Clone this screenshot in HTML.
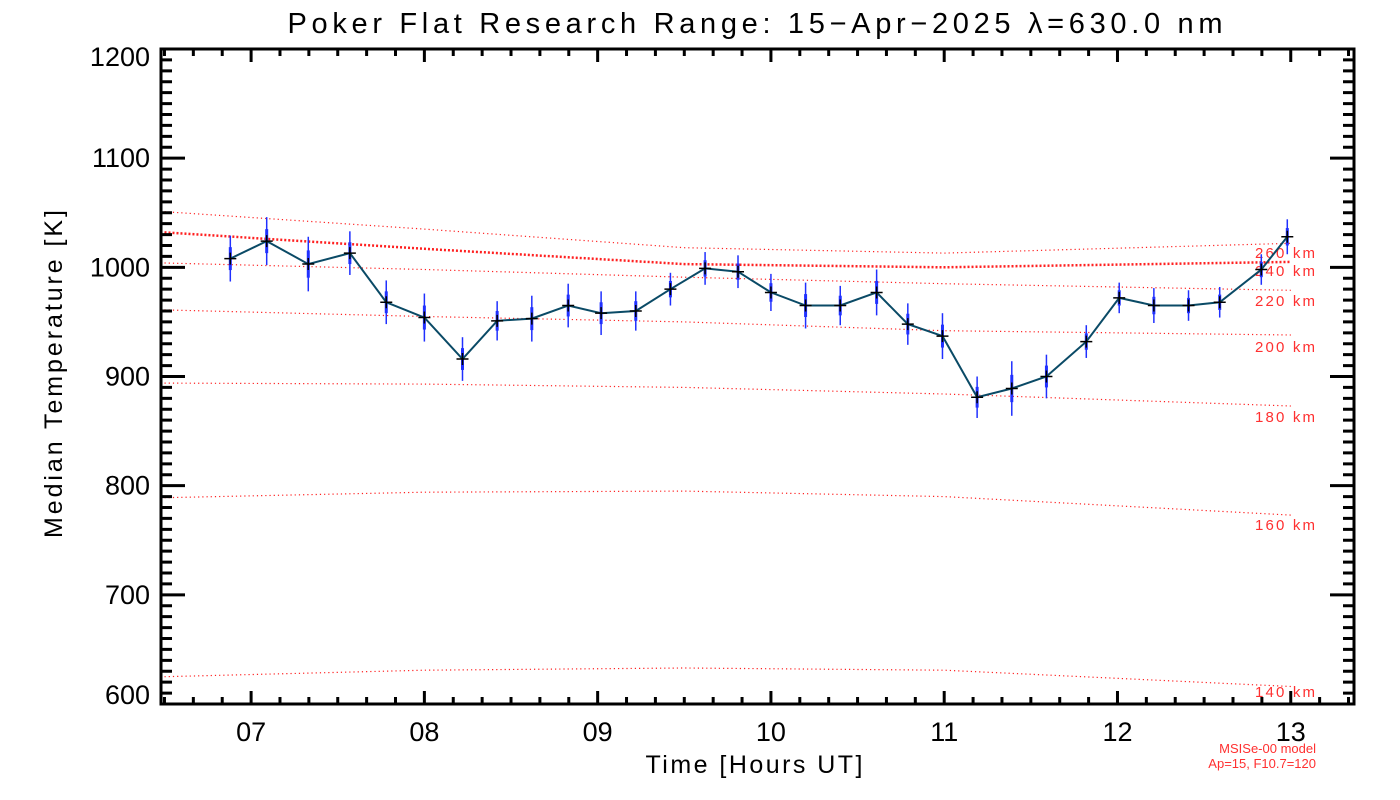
<!DOCTYPE html>
<html><head><meta charset="utf-8"><style>
html,body{margin:0;padding:0;background:#fff;}
svg{display:block;font-family:"Liberation Sans","DejaVu Sans",sans-serif;}
</style></head><body>
<svg id="chart" width="1400" height="800" viewBox="0 0 1400 800">
<text x="755" y="33" font-size="29" text-anchor="middle" textLength="935" lengthAdjust="spacing">Poker Flat Research Range: 15−Apr−2025 λ=630.0 nm</text>
<text x="754" y="773" font-size="25" text-anchor="middle" textLength="217" lengthAdjust="spacing">Time [Hours UT]</text>
<text transform="translate(62,374) rotate(-90)" font-size="25" text-anchor="middle" textLength="328" lengthAdjust="spacing">Median Temperature [K]</text>
<text x="1316" y="753" font-size="13" fill="#ff3030" text-anchor="end">MSISe-00 model</text>
<text x="1316" y="768" font-size="13" fill="#ff3030" text-anchor="end">Ap=15, F10.7=120</text>
<g id="models"></g><g id="series"></g><g id="axes"></g>
</svg>
<script>
const times=[6.88,7.09,7.33,7.57,7.78,8.0,8.22,8.42,8.62,8.83,9.02,9.22,9.42,9.62,9.81,10.0,10.2,10.4,10.61,10.79,10.99,11.19,11.39,11.59,11.82,12.01,12.21,12.41,12.59,12.83,12.98];
const temps=[1008,1024,1003,1013,968,954,916,951,953,965,958,960,980,999,996,977,965,965,977,948,937,881,889,900,932,972,965,965,968,998,1028];
const errs=[21,22,25,20,20,22,20,18,21,20,20,18,15,15,15,17,21,18,21,19,21,19,25,20,15,14,16,14,14,14,16];
const modelTimes=[6.5,8,9.5,11,13];
const modelAlts=["140 km","160 km","180 km","200 km","220 km","240 km","260 km"];
const model140=[625,631,633,631,616];
const model160=[789,794,795,790,773];
const model180=[894,893,890,884,873];
const model200=[961,955,950,942,938];
const model220=[1004,998,991,985,979];
const model240=[1032,1017,1003,1000,1005];
const model260=[1051,1035,1018,1013,1022];
const models=[model140,model160,model180,model200,model220,model240,model260];
const labelY=[692,525,417,347,301,271,253];
const yTicks=[600,700,800,900,1000,1100,1200];
const xTicks=[7,8,9,10,11,12,13];
const xTickLabels=["07","08","09","10","11","12","13"];

const L=161,R=1354,T=49,B=704,X0=6.48,X1=13.365,Y0=600,Y1=1200;
const sx=t=>L+(t-X0)/(X1-X0)*(R-L);
const sy=v=>B-(v-Y0)/(Y1-Y0)*(B-T);
const NS="http://www.w3.org/2000/svg";
function mk(tag,attrs,parent){const e=document.createElementNS(NS,tag);for(const k in attrs)e.setAttribute(k,attrs[k]);parent.appendChild(e);return e;}

const gm=document.getElementById('models');
models.forEach((m,i)=>{
  const pts=m.map((v,j)=>sx(modelTimes[j]).toFixed(1)+","+sy(v).toFixed(1)).join(" ");
  const pl=mk('polyline',{points:pts,fill:'none',stroke:'#ff2020','stroke-width':i===5?2.5:1.2,'stroke-dasharray':i===5?'2 2':'1.2 3'},gm);
  
  
  const tx=mk('text',{x:1255,y:labelY[i]+5,'font-size':15,fill:'#ff3030',textLength:60,lengthAdjust:'spacing'},gm);
  tx.textContent=modelAlts[i];
  
  
});

const gs=document.getElementById('series');
times.forEach((t,i)=>{
  const x=sx(t),y=temps[i];
  const eb=mk('line',{x1:x,x2:x,y1:sy(y+errs[i]),y2:sy(y-errs[i]),stroke:'#2030ff','stroke-width':1.5},gs);
  
  
  const eb2=mk('line',{x1:x,x2:x,y1:sy(y+errs[i]/2),y2:sy(y-errs[i]/2),stroke:'#2030ff','stroke-width':3},gs);
  
  
});
const line=mk('polyline',{points:times.map((t,i)=>sx(t).toFixed(1)+","+sy(temps[i]).toFixed(1)).join(" "),fill:'none',stroke:'#0a4a66','stroke-width':2},gs);


times.forEach((t,i)=>{
  const x=sx(t),y=sy(temps[i]);
  const p=mk('path',{d:`M${x-6},${y}H${x+6}M${x},${y-6}V${y+6}`,stroke:'#000','stroke-width':1.5},gs);
  
  
});

const ga=document.getElementById('axes');
const frame=mk('rect',{x:L,y:T,width:R-L,height:B-T,fill:'none',stroke:'#000','stroke-width':3},ga);


let d="";
for(let v=600;v<=1200;v+=10){const y=sy(v);const major=v%100===0;const len=major?24:11;d+=`M${L},${y}h${len}M${R},${y}h${-len}`;}
for(let k=0;;k++){const t=6.5+k/6;if(t>X1)break;const x=sx(t);const major=Math.abs(t-Math.round(t))<1e-6;const len=major?13:7;d+=`M${x},${B}v${-len}M${x},${T}v${len}`;}
const ticks=mk('path',{d:d,stroke:'#000','stroke-width':3},ga);


yTicks.forEach(v=>{
  const tx=mk('text',{x:150,y:Math.min(Math.max(sy(v)+9,66),704),'font-size':27,'text-anchor':'end'},ga);
  tx.textContent=String(v);
  
  
});
xTicks.forEach((t,i)=>{
  const tx=mk('text',{x:sx(t),y:741,'font-size':27,'text-anchor':'middle'},ga);
  tx.textContent=xTickLabels[i];
  
  
});
</script>
</body></html>
